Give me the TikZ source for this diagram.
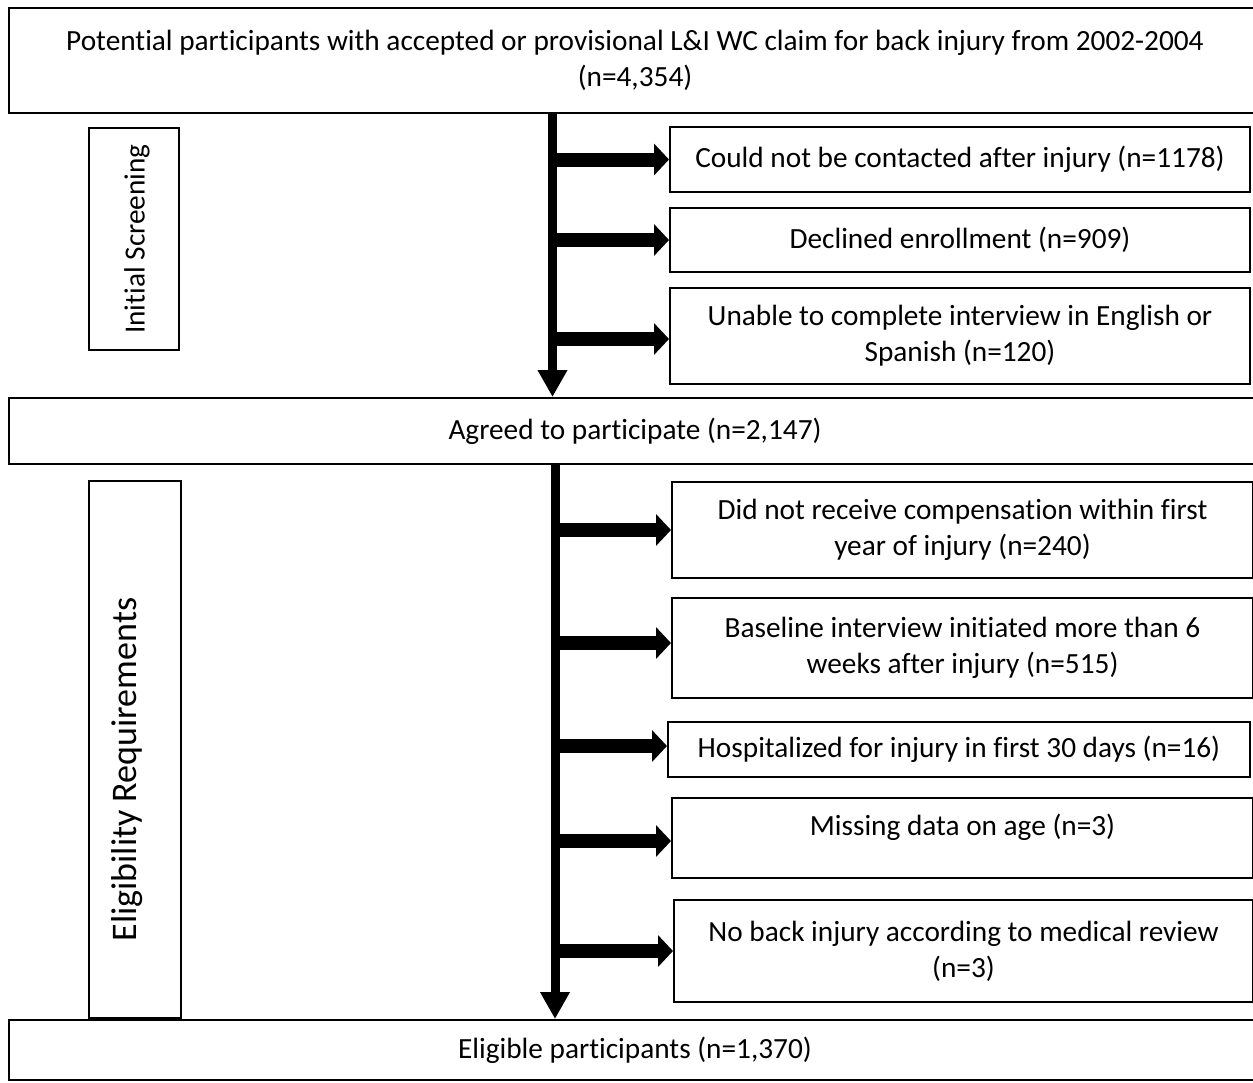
\documentclass[tikz,border=0pt]{standalone}
\usepackage{fontspec}
\setmainfont{Carlito}[Ligatures=NoCommon]
\usetikzlibrary{arrows.meta}
\begin{document}
\begin{tikzpicture}[x=1pt,y=-1pt,
  box/.style={draw=black, line width=2pt, rectangle, inner sep=2pt, align=center,
    font=\fontsize{29.3}{36}\selectfont},
  sidebox/.style={box, rotate=90},
  vshaft/.style={line width=9pt, -{Triangle[length=27pt,width=28pt]}},
  hshaft/.style={line width=14pt, -{Triangle[length=15pt,width=31pt]}}]
\useasboundingbox (0,0) rectangle (1253,1082);
\clip (0,0) rectangle (1253,1082);

% main boxes (right edges run off the page)
\node[box, minimum width=1252pt, minimum height=105pt] (top) at (635,60.5)
  {Potential participants with accepted or provisional L\&I WC claim for back injury from 2002-2004\\(n=4,354)};
\node[box, minimum width=1252pt, minimum height=66pt] (agreed) at (635,431)
  {Agreed to participate (n=2,147)};
\node[box, minimum width=1252pt, minimum height=60pt] (elig) at (635,1050)
  {Eligible participants (n=1,370)};

% side labels
\node[sidebox, minimum width=222pt, minimum height=90pt, text height=21pt, text depth=0pt] (is) at (134,239) {Initial Screening};
\node[sidebox, minimum width=537pt, minimum height=92pt, text height=25pt, text depth=23pt,
  font=\fontsize{36}{40}\selectfont] (er) at (135,749.5) {Eligibility Requirements\hspace*{40pt}};

% exclusion boxes, first stage
\node[box, minimum width=580pt, minimum height=65pt] (b1) at (960,159.5)
  {Could not be contacted after injury (n=1178)};
\node[box, minimum width=580pt, minimum height=64pt] (b2) at (960,240)
  {Declined enrollment (n=909)};
\node[box, minimum width=580pt, minimum height=96pt] (b3) at (960,336)
  {Unable to complete interview in English or\\Spanish (n=120)};

% exclusion boxes, second stage
\node[box, minimum width=581pt, minimum height=96pt] (c1) at (962.5,530)
  {Did not receive compensation within first\\year of injury (n=240)};
\node[box, minimum width=581pt, minimum height=100pt] (c2) at (962.5,648)
  {Baseline interview initiated more than 6\\weeks after injury (n=515)};
\node[box, minimum width=582pt, minimum height=55pt] (c3) at (959,749.5)
  {Hospitalized for injury in first 30 days (n=16)};
\node[box, minimum width=581pt, minimum height=80pt, text depth=26pt] (c4) at (962.5,838)
  {Missing data on age (n=3)};
\node[box, minimum width=579pt, minimum height=102pt] (c5) at (963.5,951)
  {No back injury according to medical review\\(n=3)};

% spine coordinates
\coordinate (sa) at (552.5,0);
\coordinate (sb) at (555,0);

% vertical arrows
\draw[vshaft] (top.south -| sa) -- (agreed.north -| sa);
\draw[vshaft] (agreed.south -| sb) -- (elig.north -| sb);

% horizontal arrows
\draw[hshaft] (b1.west -| sa) -- (b1.west);
\draw[hshaft] (b2.west -| sa) -- (b2.west);
\draw[hshaft] ([yshift=-3pt]b3.west -| sa) -- ([yshift=-3pt]b3.west);
\draw[hshaft] (c1.west -| sb) -- (c1.west);
\draw[hshaft] ([yshift=5pt]c2.west -| sb) -- ([yshift=5pt]c2.west);
\draw[hshaft] ([yshift=3.5pt]c3.west -| sb) -- ([yshift=3.5pt]c3.west);
\draw[hshaft] ([yshift=-3pt]c4.west -| sb) -- ([yshift=-3pt]c4.west);
\draw[hshaft] (c5.west -| sb) -- (c5.west);
\end{tikzpicture}
\end{document}
